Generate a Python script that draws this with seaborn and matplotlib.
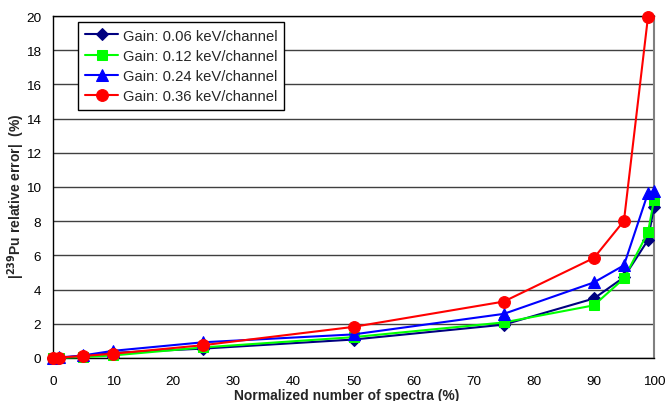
import matplotlib
matplotlib.use("Agg")
import matplotlib.pyplot as plt
import seaborn as sns
import pandas as pd

x_full = [0, 1, 5, 10, 25, 50, 75, 90, 95, 99, 100]
x_red = [0, 1, 5, 10, 25, 50, 75, 90, 95, 99]

gain_006 = [0.0, 0.02, 0.1, 0.3, 0.55, 1.08, 1.95, 3.48, 4.72, 6.9, 8.85]
gain_012 = [0.0, 0.02, 0.05, 0.15, 0.62, 1.22, 2.08, 3.08, 4.65, 7.35, 9.25]
gain_024 = [0.0, 0.03, 0.15, 0.42, 0.92, 1.38, 2.58, 4.42, 5.42, 9.65, 9.75]
gain_036 = [0.0, 0.02, 0.12, 0.25, 0.75, 1.82, 3.3, 5.85, 8.02, 19.95]

labels = ["Gain: 0.06 keV/channel", "Gain: 0.12 keV/channel",
          "Gain: 0.24 keV/channel", "Gain: 0.36 keV/channel"]
colors = ["#000080", "#00FF00", "#0000FF", "#FF0000"]
markers = ["D", "s", "^", "o"]
msizes = [6, 7, 8, 8.5]

xticks = list(range(0, 101, 10))
yticks = list(range(0, 21, 2))

series = [(x_full, gain_006), (x_full, gain_012), (x_full, gain_024), (x_red, gain_036)]

sns.set_style("white")
plt.rcParams['font.family'] = ['Liberation Sans', 'DejaVu Sans']

fig = plt.figure(figsize=(6.67, 4.02), dpi=100)
ax = fig.add_axes([53/667, 1-359/402, (654-53)/667, (359-17)/402])

for (xs, ys), lab, c, m, ms in zip(series, labels, colors, markers, msizes):
    df = pd.DataFrame({"x": xs, "y": ys})
    sns.lineplot(data=df, x="x", y="y", ax=ax, color=c, marker=m, markersize=ms,
                 markeredgecolor=c, linewidth=1.5, label=lab, clip_on=False, zorder=3)

ax.set_xlim(0, 100)
ax.set_ylim(0, 20)
ax.set_xticks(xticks)
ax.set_yticks(yticks)
ax.tick_params(axis='both', direction='out', length=5, width=1, labelsize=9.7,
               colors='black')
ax.tick_params(axis='x', pad=7)
ax.tick_params(axis='y', pad=3.5)
ax.yaxis.grid(True, color='#404040', linewidth=1)
ax.xaxis.grid(False)
ax.set_axisbelow(True)
for s in ['left', 'bottom']:
    ax.spines[s].set_color('black')
    ax.spines[s].set_linewidth(1)
ax.spines['right'].set_color('#808080')
ax.spines['right'].set_linewidth(1.5)
ax.spines['top'].set_color('black')
ax.spines['top'].set_linewidth(1)

ax.set_xlabel("Normalized number of spectra (%)", fontsize=10, fontweight='bold')
ax.set_ylabel(r"|$^{\mathbf{239}}$Pu relative error|  (%)", fontsize=10, fontweight='bold')
ax.xaxis.set_label_coords((346.5-53)/601, (359-389)/342)
ax.yaxis.set_label_coords((27-53)/601, (359-196)/342)

leg = ax.legend(loc='upper left', bbox_to_anchor=((78-53)/601, 1-(23-17)/342),
                fontsize=10.6, frameon=True, fancybox=False, edgecolor='black',
                framealpha=1, handlelength=2.3, handletextpad=0.3, borderpad=0.45,
                labelspacing=0.42, borderaxespad=0)
leg.get_frame().set_linewidth(1)

fig.savefig("out.png", dpi=100)
